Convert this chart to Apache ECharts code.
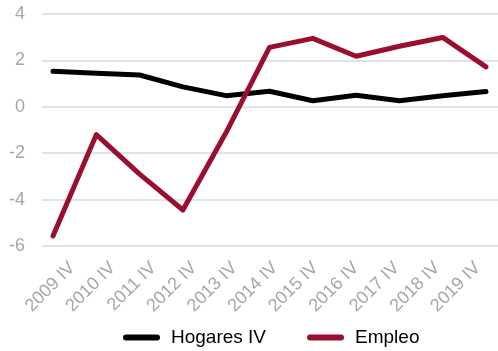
<!DOCTYPE html>
<html>
<head>
<meta charset="utf-8">
<script src="https://cdn.jsdelivr.net/npm/echarts@6/dist/echarts.min.js"></script>
<style>
  html, body { margin: 0; padding: 0; background: #ffffff; }
  #chart { width: 498px; height: 351px; }
</style>
</head>
<body>
<div id="chart"></div>
<script>
// Quarter labels (fourth quarter of each year)
const categories = ['2009 IV', '2010 IV', '2011 IV', '2012 IV', '2013 IV', '2014 IV',
                    '2015 IV', '2016 IV', '2017 IV', '2018 IV', '2019 IV'];
// Year-on-year change, %
const hogares = [1.53, 1.45, 1.37, 0.86, 0.48, 0.67, 0.26, 0.50, 0.26, 0.48, 0.66];
const empleo  = [-5.57, -1.20, -2.90, -4.45, -1.10, 2.56, 2.95, 2.18, 2.61, 2.99, 1.72];
// Value axis ticks
const yTicks = [-6, -4, -2, 0, 2, 4];

const FONT = 'Liberation Sans, Arial, sans-serif';
const GREY = '#a6a6a6';
const RED = '#9a0f2f';

const chart = echarts.init(document.getElementById('chart'), null, { renderer: 'canvas' });

const stadium = 'path://M3,0 L34,0 A3,3 0 0 1 34,6 L3,6 A3,3 0 0 1 3,0 Z';
const yMin = yTicks[0];
const yMax = yTicks[yTicks.length - 1];

chart.setOption({
  animation: false,
  backgroundColor: '#ffffff',
  grid: [
    // frame with horizontal gridlines and value labels
    { left: 42, right: 0, top: 14, bottom: 105, containLabel: false },
    // plotting area for the lines
    { left: 53, right: 12, top: 14, bottom: 105, containLabel: false },
    // band for the rotated category labels
    { left: 52, right: -10, top: 14, bottom: 105, containLabel: false }
  ],
  xAxis: [
    {
      type: 'category', gridIndex: 0, data: categories,
      axisLine: { show: false }, axisTick: { show: false }, axisLabel: { show: false }
    },
    {
      type: 'category', gridIndex: 1, data: categories, boundaryGap: false,
      axisLine: { show: false }, axisTick: { show: false }, axisLabel: { show: false }
    },
    {
      type: 'category', gridIndex: 2, data: categories, boundaryGap: true,
      axisLine: { show: false }, axisTick: { show: false },
      axisLabel: { rotate: 45, color: GREY, fontSize: 18, fontFamily: FONT, margin: 19, interval: 0 }
    }
  ],
  yAxis: [
    {
      type: 'value', gridIndex: 0, min: yMin, max: yMax, interval: 2,
      axisLine: { show: false }, axisTick: { show: false },
      axisLabel: { color: GREY, fontSize: 18, fontFamily: FONT, margin: 17 },
      splitLine: { lineStyle: { color: '#d9d9d9', width: 1.5 } }
    },
    {
      type: 'value', gridIndex: 1, min: yMin, max: yMax, interval: 2,
      axisLine: { show: false }, axisTick: { show: false },
      axisLabel: { show: false }, splitLine: { show: false }
    },
    {
      type: 'value', gridIndex: 2, min: yMin, max: yMax, interval: 2,
      axisLine: { show: false }, axisTick: { show: false },
      axisLabel: { show: false }, splitLine: { show: false }
    }
  ],
  legend: {
    left: 123, top: 328, padding: 0,
    itemWidth: 37, itemHeight: 6, itemGap: 41,
    icon: stadium,
    textStyle: { color: '#000000', fontSize: 19, fontFamily: FONT, padding: [0, 0, 0, 6] },
    data: ['Hogares IV', 'Empleo']
  },
  series: [
    {
      name: 'Hogares IV', type: 'line', xAxisIndex: 1, yAxisIndex: 1,
      data: hogares, symbol: 'none', color: '#000000',
      lineStyle: { color: '#000000', width: 5, cap: 'round', join: 'round' }
    },
    {
      name: 'Empleo', type: 'line', xAxisIndex: 1, yAxisIndex: 1,
      data: empleo, symbol: 'none', color: RED,
      lineStyle: { color: RED, width: 5, cap: 'round', join: 'round' }
    }
  ]
});
</script>
</body>
</html>
